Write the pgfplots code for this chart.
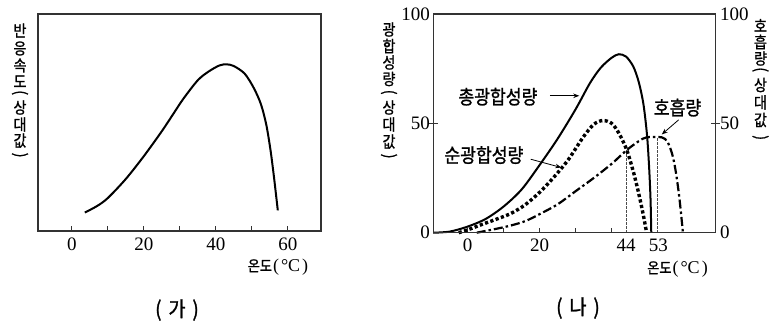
\documentclass[border=0pt]{standalone}
\usepackage{fontspec}
\setmainfont{Liberation Serif}
\newfontfamily\kr[FakeStretch=0.88,FakeBold=1.2]{Noto Sans CJK KR}
\usepackage{pgfplots}
\usepackage{pgfplotstable}
\pgfplotsset{compat=1.18}
\usetikzlibrary{arrows.meta}
\newcommand{\krs}[1]{\kr\fontsize{#1}{#1}\selectfont}

\pgfplotstableread{
x y
3.6 8.5
7 11.5
10 15.2
15 24
20 34.5
25 46
28 53.5
31 61
35 69.5
38 73.5
41 76.3
43 76.8
45 76
48 72.5
50.5 66
52.5 58.5
54 49
55.2 37
56.2 24
57.2 9.5
}\tblA

\pgfplotstableread{
x y
-9.6 0
-5 0.5
0 2.8
5 6.3
10 12
15 19.8
20 31
25 43
30 56.5
34 68.5
37 75.5
40 80
42 81.6
44 80.5
46 76
47.5 69
48.8 59
49.8 45
50.4 30
50.8 15
51 0
}\tblTotal

\pgfplotstableread{
x y
-2.5 0
0 1.3
4 3.8
8 6.2
12 8.8
16 12.8
20 18.5
24 25.5
28 33.5
32 43.5
35 49.5
37.5 51.3
40 50
42 45.5
44.2 37.8
46 28
47.5 18
48.8 8
49.7 0
}\tblNet

\pgfplotstableread{
x y
2.5 0
8 1.8
12 3.3
16 5.3
20 8.5
25 13
30 19
35 25
40 31.5
44.2 37.8
47.5 41.8
49.7 43.6
53.9 43.6
55.5 41.5
56.8 36
57.8 28
58.8 16
59.8 0
}\tblResp

\begin{document}
\begin{tikzpicture}[x=1pt,y=1pt]
\useasboundingbox (0,0) rectangle (771,328);
\pgfplotsset{
  base/.style={scale only axis, anchor=south west, ymin=0, ymax=100, clip=false,
    axis line style={black!80, line width=1.2pt},
    tick style={black!80, line width=1pt},
    /pgf/number format/assume math mode=true,
    ticklabel style={font=\fontsize{19}{19}\selectfont},
    xticklabel style={yshift=-3pt},
  },
}
% ---------- (가)
\begin{axis}[base, at={(38pt,97pt)}, width=283pt, height=217pt,
  xmin=-9.4, xmax=69.2,
  xtick={0,10,20,30,40,50,60}, xticklabels={0,,20,,40,,60},
  ytick=\empty, xtick pos=bottom, tick align=inside, major tick length=5pt]
\addplot[black, line width=2pt, smooth] table {\tblA};
\end{axis}

% ---------- (나) main
\begin{axis}[base, at={(433.3pt,95.3pt)}, width=282.4pt, height=218.7pt,
  xmin=-9.56, xmax=68.9,
  xtick={0,10,20,30,40}, xticklabels={0,,20,,},
  extra x ticks={44,53}, extra x tick style={tick style={draw=none}},
  ytick={50}, extra y ticks={0,100}, extra y tick style={tick style={draw=none}},
  xtick pos=bottom, yticklabel pos=left, tick align=inside, major tick length=5pt]
\addplot[black!70, line width=0.7pt, dash pattern=on 2.5pt off 1.5pt] coordinates {(44,0) (44,37.8)};
\addplot[black!70, line width=0.7pt, dash pattern=on 2.5pt off 1.5pt] coordinates {(52.8,0) (52.8,43.6)};
\addplot[black, line width=2pt, smooth] table {\tblTotal};
\addplot[black, line width=3.4pt, smooth, dash pattern=on 3.2pt off 2.4pt] table {\tblNet};
\addplot[black, line width=2.2pt, smooth, dash pattern=on 9pt off 3pt on 2.5pt off 3pt] table {\tblResp};
\node[font=\krs{19.5}] at (axis cs:8.4,62.2) {총광합성량};
\draw[-{Stealth[length=6pt,width=4.5pt]}, line width=0.8pt] (axis cs:22.8,62.6) -- (axis cs:31,62.6);
\node[font=\krs{19.5}] at (axis cs:4.5,35.5) {순광합성량};
\draw[-{Stealth[length=6pt,width=4.5pt]}, line width=0.8pt] (axis cs:17.5,33.6) -- (axis cs:26,29.8);
\node[font=\krs{19.5}] at (axis cs:58.3,57.2) {호흡량};
\draw[-{Stealth[length=6pt,width=4.5pt]}, line width=0.8pt] (axis cs:58.6,51.6) -- (axis cs:53.9,44.9);
\end{axis}

% ---------- (나) overlay for outward y ticks and right labels
\begin{axis}[base, at={(433.3pt,95.3pt)}, width=282.4pt, height=218.7pt,
  xmin=-9.56, xmax=68.9, xtick=\empty,
  ytick={50}, extra y ticks={0,100}, extra y tick style={tick style={draw=none}},
  yticklabel pos=right, yticklabel style={xshift=-3pt},
  tick align=outside, major tick length=4pt]
\end{axis}

% ---------- vertical labels
\foreach \c/\py in {반/30.5, 응/48.5, 속/65.5, 도/81.5, 상/107.5, 대/124.5, 값/140.5}
  \node[font=\krs{16}, inner sep=0pt] at (20, 328-\py) {\c};
\node[font=\krs{16}, inner sep=0pt] at (20, 328-94) {\rotatebox[origin=c]{-90}{(}};
\node[font=\krs{16}, inner sep=0pt] at (20, 328-156.5) {\rotatebox[origin=c]{-90}{)}};

\foreach \c/\py in {광/29.5, 합/46, 성/62.5, 량/79, 상/107.5, 대/124.5, 값/141.5}
  \node[font=\krs{16}, inner sep=0pt] at (389, 328-\py) {\c};
\node[font=\krs{16}, inner sep=0pt] at (389, 328-93.5) {\rotatebox[origin=c]{-90}{(}};
\node[font=\krs{16}, inner sep=0pt] at (389, 328-157.5) {\rotatebox[origin=c]{-90}{)}};

\foreach \c/\py in {호/25.5, 흡/42, 량/58.5, 상/85, 대/102.5, 값/120}
  \node[font=\krs{16}, inner sep=0pt] at (760.5, 328-\py) {\c};
\node[font=\krs{16}, inner sep=0pt] at (760.5, 328-71) {\rotatebox[origin=c]{-90}{(}};
\node[font=\krs{16}, inner sep=0pt] at (760.5, 328-139) {\rotatebox[origin=c]{-90}{)}};

% ---------- x labels and titles
\node at (278,61) {{\krs{15}온도}{\fontsize{18}{18}\selectfont\kern1pt(\kern2pt°C\kern2pt)}};
\node at (677.5,59) {{\krs{15}온도}{\fontsize{18}{18}\selectfont\kern1pt(\kern2pt°C\kern2pt)}};
\node[font=\krs{21}] at (177,18) {(\kern7pt가\kern7pt)};
\node[font=\krs{21}] at (578,20) {(\kern7pt나\kern7pt)};
\end{tikzpicture}
\end{document}
